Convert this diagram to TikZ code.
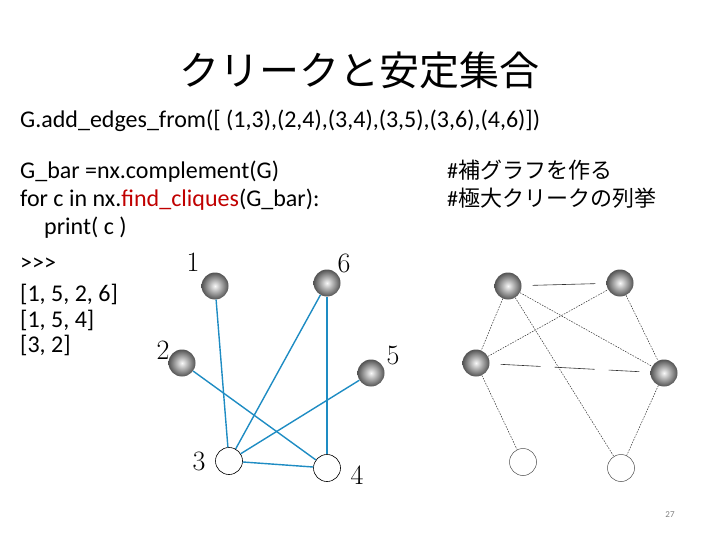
\documentclass[tikz,border=0pt]{standalone}
\usepackage{fontspec}
\newfontfamily\calibri{Carlito}
\newfontfamily\jpfont{Noto Sans CJK JP}
\usetikzlibrary{positioning}
\definecolor{edgeblue}{RGB}{30,140,195}
\definecolor{darkred}{RGB}{192,0,0}
\newcommand{\jp}[1]{{\jpfont #1}}

\begin{document}
\begin{tikzpicture}[x=1pt,y=-1pt,
    code/.style={anchor=base west,inner sep=0pt,font=\calibri\fontsize{24}{28}\selectfont},
    note/.style={anchor=base west,inner sep=0pt,font=\calibri\fontsize{22}{26}\selectfont},
    vlabel/.style={inner sep=0pt,font=\fontsize{28}{30}\selectfont},
    ball/.style={circle,minimum size=27pt,inner sep=0pt,inner color=gray!5,outer color=gray!65!black},
    hole/.style={circle,draw,line width=0.6pt,minimum size=27pt,inner sep=0pt,fill=white},
    gedge/.style={edgeblue,line width=1.4pt},
    cedge/.style={black!80,line width=0.5pt,dash pattern=on 1.6pt off 1.2pt},
    gapped/.style={black!80,line width=0.6pt,shorten <=11pt,shorten >=11pt}
  ]
    \useasboundingbox (0,0) rectangle (720,540);

    \node[anchor=base,font=\jpfont\fontsize{40}{44}\selectfont] (title) at (359,86) {クリークと安定集合};

    \node[code] (edges) at (20,128) {G.add\_edges\_from([ (1,3),(2,4),(3,4),(3,5),(3,6),(4,6)])};
    \node[code] (comp) at (20,179) {G\_bar =nx.complement(G)};
    \node[code] (loop) at (20,207) {for c in nx.\textcolor{darkred}{find\_cliques}(G\_bar):};
    \node[code] (prt) at (44,234) {print( c )};
    \node[code] (prompt) at (20,270) {{>}{>}{>}};
    \node[code] (res1) at (20,301) {[1, 5, 2, 6]};
    \node[code] (res2) at (20,327) {[1, 5, 4]};
    \node[code] (res3) at (20,352) {[3, 2]};

    \node[note] (note1) at (447,179) {\#\jp{補グラフを作る}};
    \node[note] (note2) at (447,207) {\#\jp{極大クリークの列挙}};

    % graph G
    \node[ball] (l1) at (215,286) {};
    \node[ball] (l6) at (327,283) {};
    \node[ball] (l2) at (182,363) {};
    \node[ball] (l5) at (371,373) {};
    \node[hole] (l3) at (229,461) {};
    \node[hole] (l4) at (327,468) {};

    \node[vlabel] (n1) at (193,262) {1};
    \node[vlabel] (n6) at (344,263) {6};
    \node[vlabel] (n2) at (163,350) {2};
    \node[vlabel] (n5) at (393,355) {5};
    \node[vlabel] (n3) at (199,461) {3};
    \node[vlabel] (n4) at (357,475) {4};

    \draw[gedge] (l1) -- (l3);
    \draw[gedge] (l2) -- (l4);
    \draw[gedge] (l3) -- (l4);
    \draw[gedge] (l3) -- (l5);
    \draw[gedge] (l3) -- (l6);
    \draw[gedge] (l4) -- (l6);

    % complement of G
    \node[ball] (r1) at (508,286) {};
    \node[ball] (r6) at (620,283) {};
    \node[ball] (r2) at (476,363) {};
    \node[ball] (r5) at (664,373) {};
    \node[hole,draw=black!70,line width=0.5pt] (r3) at (523,462) {};
    \node[hole,draw=black!70,line width=0.5pt] (r4) at (621,468) {};

    \draw[gapped] (r1) -- (r6);
    \draw[gapped,dash pattern=on 40pt off 14pt] (r2) -- (r5);
    \draw[cedge] (r1) -- (r2);
    \draw[cedge] (r1) -- (r4);
    \draw[cedge] (r1) -- (r5);
    \draw[cedge] (r2) -- (r6);
    \draw[cedge] (r2) -- (r3);
    \draw[cedge] (r6) -- (r5);
    \draw[cedge] (r5) -- (r4);

    \node[font=\calibri\fontsize{9}{10}\selectfont,text=gray] (page) at (670,515) {27};
\end{tikzpicture}
\end{document}
